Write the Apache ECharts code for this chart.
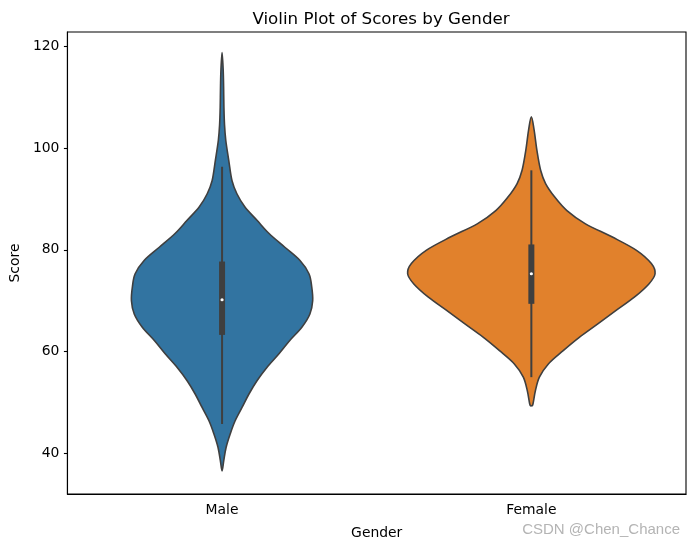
<!DOCTYPE html>
<html>
<head>
<meta charset="utf-8">
<script src="https://cdn.jsdelivr.net/npm/echarts@6/dist/echarts.min.js"></script>
<style>
html,body{margin:0;padding:0;background:#fff;}
#chart{width:695px;height:547px;}
</style>
</head>
<body>
<div id="chart"></div>
<script>
// ---- data ----
const categories = ['Male', 'Female'];
const yTicks = [40, 60, 80, 100, 120];

// density outline: score values and half-width (fraction of category band)
const maleScores = [36.6, 38.6, 41.2, 43.8, 46.4, 49.1, 51.7, 54.3, 56.9, 59.6, 62.2, 64.8, 67.4, 70.0, 72.7, 75.3, 77.9, 80.5, 83.2, 85.8, 88.4, 91.0, 93.6, 97.6, 101.5, 104.5, 108.0, 112.0, 115.5, 118.7];
const maleWidths = [0, 0.0055, 0.013, 0.026, 0.042, 0.065, 0.087, 0.113, 0.145, 0.184, 0.219, 0.258, 0.284, 0.293, 0.290, 0.281, 0.252, 0.203, 0.152, 0.113, 0.074, 0.048, 0.032, 0.0215, 0.012, 0.008, 0.006, 0.005, 0.0035, 0];
const femaleScores = [49.4, 49.7, 52.3, 55.0, 57.6, 60.2, 62.8, 65.5, 68.1, 70.7, 73.3, 75.3, 77.3, 79.9, 82.5, 85.1, 87.7, 90.4, 93.0, 95.6, 99.5, 103.5, 106.1];
const femaleWidths = [0, 0.005, 0.013, 0.026, 0.055, 0.103, 0.155, 0.216, 0.274, 0.333, 0.380, 0.400, 0.388, 0.340, 0.262, 0.175, 0.115, 0.075, 0.046, 0.030, 0.018, 0.009, 0];

// inner box stats [Male, Female]
const whiskerLow = [45.8, 55.0];
const q1 = [63.3, 69.4];
const median = [70.2, 75.3];
const q3 = [77.7, 81.05];
const whiskerHigh = [96.3, 95.6];

const outlineScores = [maleScores, femaleScores];
const outlineWidths = [maleWidths, femaleWidths];
const fillColors = ['#3274a1', '#e1812c'];
const edgeColor = '#3f3f3f';

const chart = echarts.init(document.getElementById('chart'), null, {renderer: 'canvas'});

// smooth closed outline through the pixel points (Catmull-Rom -> cubic Bezier)
function smoothPath(p) {
  const n = p.length;
  let d = 'M' + p[0][0] + ' ' + p[0][1];
  for (let i = 0; i < n; i++) {
    const p0 = p[(i - 1 + n) % n], p1 = p[i], p2 = p[(i + 1) % n], p3 = p[(i + 2) % n];
    const c1x = p1[0] + (p2[0] - p0[0]) / 6, c1y = p1[1] + (p2[1] - p0[1]) / 6;
    const c2x = p2[0] - (p3[0] - p1[0]) / 6, c2y = p2[1] - (p3[1] - p1[1]) / 6;
    d += 'C' + c1x + ' ' + c1y + ' ' + c2x + ' ' + c2y + ' ' + p2[0] + ' ' + p2[1];
  }
  return d + 'Z';
}

function renderViolin(params, api) {
  const ci = api.value(0);
  const band = api.size([1, 0])[0];
  const sc = outlineScores[ci], wd = outlineWidths[ci];
  const right = [], left = [];
  for (let i = 0; i < sc.length; i++) {
    const c = api.coord([ci, sc[i]]);
    right.push([c[0] + wd[i] * band, c[1]]);
    left.push([c[0] - wd[i] * band, c[1]]);
  }
  const pts = right.concat(left.slice(1, -1).reverse());
  const lo = api.coord([ci, whiskerLow[ci]]);
  const hi = api.coord([ci, whiskerHigh[ci]]);
  const b1 = api.coord([ci, q1[ci]]);
  const b3 = api.coord([ci, q3[ci]]);
  const md = api.coord([ci, median[ci]]);
  return {
    type: 'group',
    children: [
      {type: 'path', shape: {pathData: smoothPath(pts)},
       style: {fill: fillColors[ci], stroke: edgeColor, lineWidth: 1.6, lineJoin: 'round'}},
      {type: 'line', shape: {x1: lo[0], y1: lo[1], x2: hi[0], y2: hi[1]},
       style: {stroke: edgeColor, lineWidth: 2}},
      {type: 'rect', shape: {x: b3[0] - 3, y: b3[1], width: 6, height: b1[1] - b3[1]},
       style: {fill: edgeColor}},
      {type: 'circle', shape: {cx: md[0], cy: md[1], r: 1.6},
       style: {fill: '#ffffff'}}
    ]
  };
}

const option = {
  animation: false,
  title: {
    text: 'Violin Plot of Scores by Gender',
    left: 376, top: 6, textAlign: 'center',
    textStyle: {fontFamily: 'DejaVu Sans', fontSize: 16.7, fontWeight: 'normal', color: '#000'}
  },
  grid: {left: 66, right: 9, top: 32, bottom: 53, show: true, borderColor: '#000', borderWidth: 1.1, backgroundColor: 'transparent'},
  xAxis: {
    type: 'category',
    data: categories,
    boundaryGap: true,
    name: 'Gender',
    nameLocation: 'middle',
    nameGap: 32,
    nameTextStyle: {fontFamily: 'DejaVu Sans', fontSize: 13.9, color: '#000'},
    axisLine: {lineStyle: {color: '#000', width: 1.1}},
    axisTick: {alignWithLabel: true, length: 3.5, lineStyle: {color: '#000', width: 1.1}},
    axisLabel: {fontFamily: 'DejaVu Sans', fontSize: 13.9, color: '#000', margin: 9},
    splitLine: {show: false}
  },
  yAxis: {
    type: 'value',
    min: 32.07, max: 122.75,
    name: 'Score',
    nameLocation: 'middle',
    nameGap: 43,
    nameTextStyle: {fontFamily: 'DejaVu Sans', fontSize: 13.9, color: '#000'},
    axisLine: {show: true, lineStyle: {color: '#000', width: 1.1}},
    axisTick: {show: true, length: 3.5, customValues: yTicks, lineStyle: {color: '#000', width: 1.1}},
    axisLabel: {fontFamily: 'DejaVu Sans', fontSize: 13.9, color: '#000', margin: 8, customValues: yTicks},
    splitLine: {show: false}
  },
  graphic: [{
    type: 'text', right: 15, top: 522,
    style: {text: 'CSDN @Chen_Chance', fill: '#b4b4b4', font: '15px "Liberation Sans", Arial, sans-serif'}
  }],
  series: [{
    type: 'custom',
    renderItem: renderViolin,
    data: categories.map((c, i) => [i]),
    encode: {x: 0},
    clip: false
  }]
};
chart.setOption(option);
</script>
</body>
</html>
